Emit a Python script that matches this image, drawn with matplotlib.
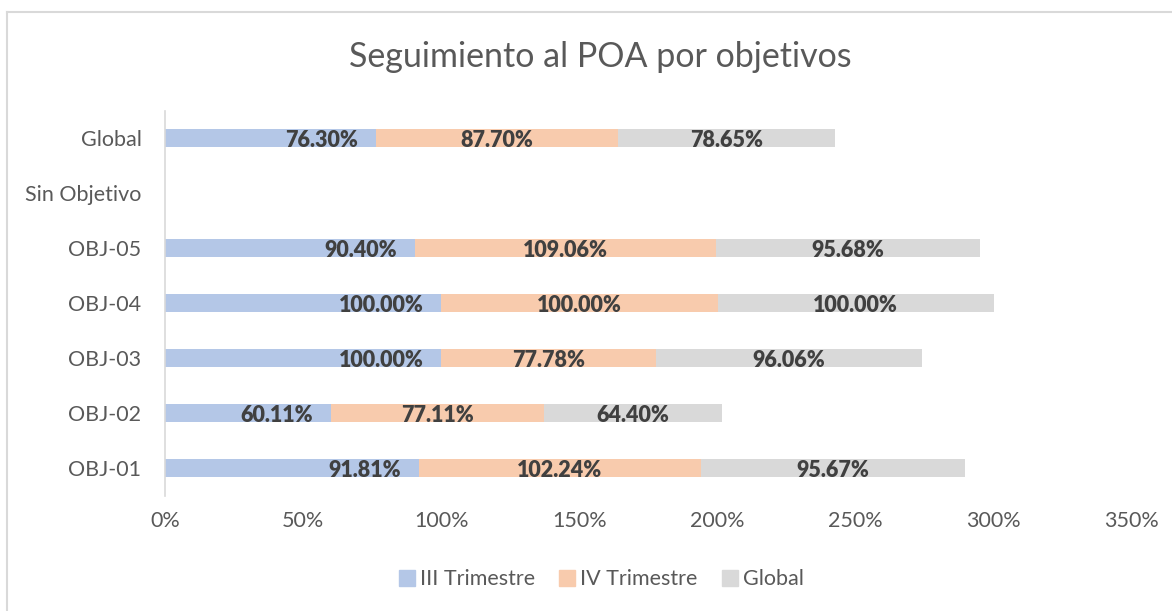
import matplotlib
matplotlib.use("Agg")
import matplotlib.pyplot as plt
from matplotlib.lines import Line2D
from matplotlib.ticker import FuncFormatter

plt.rcParams['font.family'] = ['Lato', 'DejaVu Sans']

categories = ['OBJ-01', 'OBJ-02', 'OBJ-03', 'OBJ-04', 'OBJ-05', 'Sin Objetivo', 'Global']
tercer_trim = [91.81, 60.11, 100.00, 100.00, 90.40, 0, 76.30]
cuarto_trim = [102.24, 77.11, 77.78, 100.00, 109.06, 0, 87.70]
global_vals = [95.67, 64.40, 96.06, 100.00, 95.68, 0, 78.65]
series_names = ['III Trimestre', 'IV Trimestre', 'Global']
colors = ['#B4C7E7', '#F8CBAD', '#D9D9D9']

fig = plt.figure(figsize=(11.72, 6.11), dpi=100)
ax = fig.add_axes([0.1408, 0.189, 0.825, 0.630])

y = range(len(categories))
left = [0] * len(categories)
for i, (vals, name, c) in enumerate(zip([tercer_trim, cuarto_trim, global_vals], series_names, colors)):
    ax.barh(y, vals, left=left, height=0.32, color=c, label=name)
    for yy, v, l in zip(y, vals, left):
        if v == 0:
            continue
        txt = f'{v:.2f}%'
        # first series label sits at the inner end, the others centred
        if i == 0:
            ax.text(l + v - 6.5, yy - 0.05, txt, ha='right', va='center', fontsize=15.5,
                    fontweight='heavy', color='#404040')
        else:
            ax.text(l + v / 2, yy - 0.05, txt, ha='center', va='center', fontsize=15.5,
                    fontweight='heavy', color='#404040')
    left = [a + b for a, b in zip(left, vals)]

ax.set_xlim(0, 350)
ax.set_ylim(-0.5, len(categories) - 0.5)
ax.set_xticks(range(0, 351, 50))
ax.xaxis.set_major_formatter(FuncFormatter(lambda v, p: f'{v:.0f}%'))
ax.set_yticks(list(y))
ax.set_yticklabels(categories)
ax.tick_params(axis='both', length=0, labelsize=15.5, labelcolor='#595959')
ax.tick_params(axis='x', pad=11)
ax.tick_params(axis='y', pad=17)
for s in ['top', 'right', 'bottom']:
    ax.spines[s].set_visible(False)
ax.spines['left'].set_color('#D9D9D9')
ax.spines['left'].set_linewidth(1.2)

fig.text(0.512, 0.907, 'Seguimiento al POA por objetivos', ha='center', va='center',
         fontsize=24.5, color='#595959')

handles = [Line2D([], [], marker='s', linestyle='none', markersize=11,
                  markerfacecolor=c, markeredgecolor=c) for c in colors]
fig.legend(handles, series_names, loc='center', bbox_to_anchor=(0.512, 0.052), ncol=3,
           frameon=False, fontsize=15.5, labelcolor='#595959', handletextpad=0.1,
           handlelength=1.0, columnspacing=1.0)

# chart frame (top and left edges visible)
fig.add_artist(Line2D([0.006, 1.0], [0.981, 0.981], color='#D9D9D9', linewidth=1.5))
fig.add_artist(Line2D([0.006, 0.006], [0.0, 0.981], color='#D9D9D9', linewidth=1.5))

fig.savefig('out.png', dpi=100)
